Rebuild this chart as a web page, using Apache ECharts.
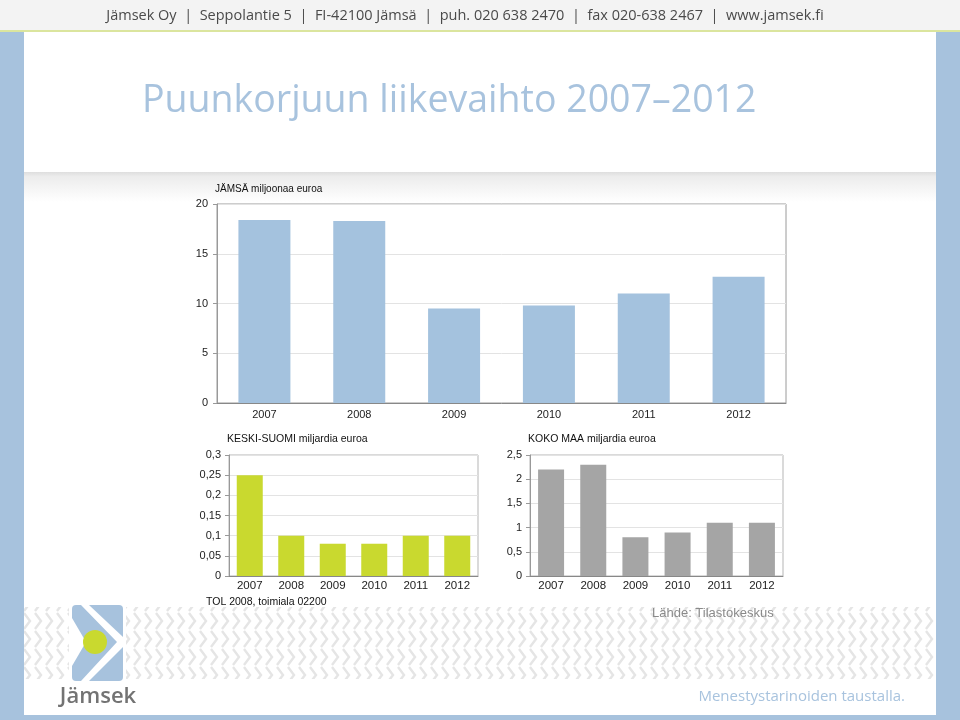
<!DOCTYPE html>
<html><head><meta charset="utf-8">
<script src="https://cdn.jsdelivr.net/npm/echarts@6/dist/echarts.min.js"></script>
<style>html,body{margin:0;padding:0;background:#fff}#c{width:960px;height:720px}</style>
</head><body><div id="c"></div>
<script>
const years = ['2007','2008','2009','2010','2011','2012'];
const jamsaValues = [18.4, 18.3, 9.5, 9.8, 11.0, 12.7];
const keskiSuomiValues = [0.25, 0.10, 0.08, 0.08, 0.10, 0.10];
const kokoMaaValues = [2.2, 2.3, 0.8, 0.9, 1.1, 1.1];
const jamsaTicks = {min: 0, max: 20, interval: 5};
const ksTicks = {min: 0, max: 0.3, interval: 0.05};
const kmTicks = {min: 0, max: 2.5, interval: 0.5};

// chevron pattern tile
const tile = document.createElement('canvas');
tile.width = 11; tile.height = 18;
const tc = tile.getContext('2d');
tc.strokeStyle = '#e5e5e5'; tc.lineWidth = 2.4;
tc.beginPath(); tc.moveTo(2, 1); tc.lineTo(8, 9); tc.lineTo(2, 17); tc.stroke();

const chart = echarts.init(document.getElementById('c'), null, {renderer: 'canvas'});
const fmt = v => String(+v.toFixed(2)).replace('.', ',');
const axisFont = {fontFamily: 'Liberation Sans, Arial', fontSize: 11, color: '#222'};

function yAx(idx, t, name) {
  return {
    type: 'value', gridIndex: idx, min: t.min, max: t.max, interval: t.interval,
    name: name, nameLocation: 'end', nameGap: 10,
    nameTextStyle: {align: 'left', fontFamily: 'Liberation Sans, Arial', fontSize: idx === 0 ? 10 : 10.5, color: '#111', padding: [0, 0, 0, -2]},
    axisLine: {show: true, lineStyle: {color: '#999'}},
    axisTick: {show: true, length: 4, lineStyle: {color: '#999'}},
    axisLabel: Object.assign({formatter: fmt, margin: idx === 0 ? 9 : 8}, axisFont),
    splitLine: {show: true, lineStyle: {color: '#e3e3e3'}}
  };
}
function xAx(idx) {
  return {
    type: 'category', gridIndex: idx, data: years,
    axisLine: {show: true, lineStyle: {color: '#888'}},
    axisTick: {show: false},
    axisLabel: Object.assign({margin: idx === 0 ? 6 : 4}, axisFont, {fontSize: idx === 0 ? 11 : 11.5})
  };
}

const option = {
  animation: false,
  backgroundColor: '#ffffff',
  grid: [
    {left: 217, right: 174, top: 204, bottom: 317, show: true, borderColor: '#9a9a9a', borderWidth: 1, backgroundColor: '#fff'},
    {left: 229, right: 482, top: 455, bottom: 144, show: true, borderColor: '#b5b5b5', borderWidth: 1, backgroundColor: '#fff'},
    {left: 530, right: 177, top: 455, bottom: 144, show: true, borderColor: '#b5b5b5', borderWidth: 1, backgroundColor: '#fff'}
  ],
  xAxis: [xAx(0), xAx(1), xAx(2)],
  yAxis: [
    yAx(0, jamsaTicks, 'JÄMSÄ miljoonaa euroa'),
    yAx(1, ksTicks, 'KESKI-SUOMI miljardia euroa'),
    yAx(2, kmTicks, 'KOKO MAA miljardia euroa')
  ],
  series: [
    {type: 'bar', xAxisIndex: 0, yAxisIndex: 0, data: jamsaValues, barWidth: 52, itemStyle: {color: '#a4c2de'}},
    {type: 'bar', xAxisIndex: 1, yAxisIndex: 1, data: keskiSuomiValues, barWidth: 26, itemStyle: {color: '#c9d92f'}},
    {type: 'bar', xAxisIndex: 2, yAxisIndex: 2, data: kokoMaaValues, barWidth: 26, itemStyle: {color: '#a5a5a5'}}
  ],
  graphic: [
    // header band
    {type: 'rect', z: -10, shape: {x: 0, y: 0, width: 960, height: 31}, style: {fill: '#f3f3f3'}},
    {type: 'rect', z: -9, shape: {x: 0, y: 30, width: 960, height: 2}, style: {fill: '#dbe59e'}},
    {type: 'text', z: 5, style: {x: 465, y: 16, text: 'Jämsek Oy  |  Seppolantie 5  |  FI-42100 Jämsä  |  puh. 020 638 2470  |  fax 020-638 2467  |  www.jamsek.fi',
      align: 'center', verticalAlign: 'middle', font: '14.5px "Open Sans", sans-serif', fill: '#4a4a4a'}},
    // side bands
    {type: 'rect', z: -10, shape: {x: 0, y: 32, width: 24, height: 688}, style: {fill: '#a7c2dd'}},
    {type: 'rect', z: -10, shape: {x: 936, y: 32, width: 24, height: 688}, style: {fill: '#a7c2dd'}},
    {type: 'rect', z: -10, shape: {x: 0, y: 715, width: 960, height: 5}, style: {fill: '#a7c2dd'}},
    {type: 'rect', z: -9, shape: {x: 24, y: 33, width: 912, height: 682, r: [8, 0, 0, 0]}, style: {fill: '#fff'}},
    // gradient band
    {type: 'rect', z: -8, shape: {x: 24, y: 172, width: 912, height: 30},
      style: {fill: new echarts.graphic.LinearGradient(0, 0, 0, 1, [{offset: 0, color: '#dedede'}, {offset: 0.15, color: '#ececec'}, {offset: 1, color: '#ffffff'}])}},
    // title
    {type: 'text', z: 5, style: {x: 142, y: 101, text: 'Puunkorjuun liikevaihto 2007\u20132012', verticalAlign: 'middle',
      font: '37.5px "Open Sans", sans-serif', fill: '#a8c3de'}},
    // chevron pattern
    {type: 'rect', z: -7, shape: {x: 24, y: 607, width: 912, height: 72}, style: {fill: {image: tile, repeat: 'repeat'}}},
    // notes
    {type: 'text', z: 5, style: {x: 206, y: 602, text: 'TOL 2008, toimiala 02200', verticalAlign: 'middle', font: '10.5px "Liberation Sans", Arial', fill: '#111'}},
    {type: 'text', z: 5, style: {x: 652, y: 613, text: 'Lähde: Tilastokeskus', verticalAlign: 'middle', font: '13px "Liberation Sans", Arial', fill: '#8a8a8a'}},
    // logo
    {type: 'rect', z: 3, shape: {x: 69, y: 603, width: 57, height: 80}, style: {fill: '#fff'}},
    {type: 'rect', z: 4, shape: {x: 72, y: 605, width: 51, height: 76, r: 4}, style: {fill: '#a7c2dd'}},
    {type: 'polygon', z: 5, shape: {points: [[81, 605], [89, 605], [123, 637], [123, 647], [89, 681], [81, 681], [117, 642]]}, style: {fill: '#fff'}},
    {type: 'polygon', z: 5, shape: {points: [[72, 618], [86, 642], [72, 666]]}, style: {fill: '#fff'}},
    {type: 'circle', z: 6, shape: {cx: 95, cy: 642, r: 12}, style: {fill: '#c9d92f'}},
    {type: 'text', z: 5, style: {x: 98, y: 697, text: 'Jämsek', align: 'center', verticalAlign: 'middle', font: '600 22px "Open Sans", sans-serif', fill: '#737373'}},
    {type: 'text', z: 5, style: {x: 905, y: 697, text: 'Menestystarinoiden taustalla.', align: 'right', verticalAlign: 'middle', font: '15px "Open Sans", sans-serif', fill: '#a8c3de'}}
  ]
};
chart.setOption(option);
</script></body></html>
